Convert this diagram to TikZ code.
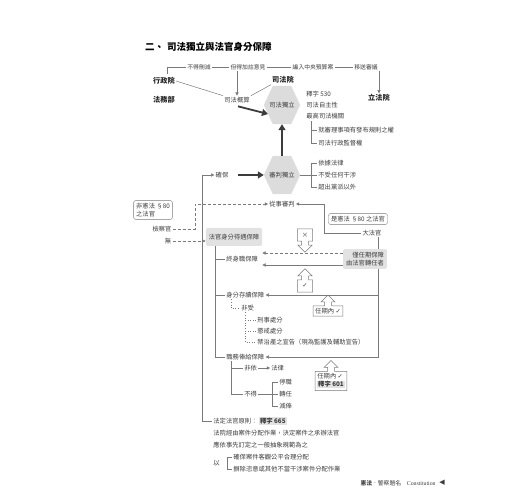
\documentclass[tikz,border=0pt]{standalone}
\usepackage{fontspec}
\setmainfont{Noto Sans CJK TC}
\newfontfamily\symfont{DejaVu Sans}
\newfontfamily\latinserif{Liberation Serif}
\usetikzlibrary{arrows.meta,positioning,calc,backgrounds}

\definecolor{ink}{HTML}{3C3C3C}
\definecolor{rulegray}{HTML}{7A7A7A}
\definecolor{hexgray}{HTML}{DCDCDC}
\definecolor{boxgray}{HTML}{E2E2E2}

% hollow arrow callouts round a node
\newcommand{\callDown}[1]{%
  \draw[callout] (#1.north west) -- (#1.north east) -- (#1.south east)
    -- ($(#1.south)+(3.5,0)$) -- ($(#1.south)+(3.5,4)$) -- ($(#1.south)+(7,4)$)
    -- ($(#1.south)+(0,11)$) -- ($(#1.south)+(-7,4)$) -- ($(#1.south)+(-3.5,4)$)
    -- ($(#1.south)+(-3.5,0)$) -- (#1.south west) -- cycle;}
\newcommand{\callUp}[1]{%
  \draw[callout] (#1.south west) -- (#1.south east) -- (#1.north east)
    -- ($(#1.north)+(3.5,0)$) -- ($(#1.north)+(3.5,-4)$) -- ($(#1.north)+(7,-4)$)
    -- ($(#1.north)+(0,-11)$) -- ($(#1.north)+(-7,-4)$) -- ($(#1.north)+(-3.5,-4)$)
    -- ($(#1.north)+(-3.5,0)$) -- (#1.north west) -- cycle;}

\begin{document}
\begin{tikzpicture}[x=1pt, y=-1pt,
  font=\fontsize{6.3}{8}\selectfont,
  txt/.style={inner sep=1.2pt, text=ink},
  ltxt/.style={txt, anchor=west},
  small/.style={txt, font=\fontsize{5.8}{7}\selectfont},
  organ/.style={inner sep=1pt, font=\fontsize{7.2}{9}\selectfont\bfseries, text=black!85},
  hexnode/.style={minimum width=36, minimum height=38, inner sep=0pt, text=ink},
  graybox/.style={fill=boxgray, rounded corners=1.5pt, inner sep=3pt, text=ink},
  tagbox/.style={draw=rulegray, rounded corners=2pt, inner sep=2.5pt, text=ink, align=left},
  ln/.style={draw=rulegray, line width=0.5pt},
  arr/.style={ln, -{Triangle[length=3.2pt,width=3.2pt]}},
  darr/.style={arr, densely dashed},
  dots/.style={draw=rulegray, line width=0.6pt, dotted},
  bigarr/.style={draw=ink, line width=1.8pt, -{Triangle[length=6pt,width=7pt]}},
  callout/.style={draw=rulegray, line width=0.5pt}
]
\useasboundingbox (0,0) rectangle (520,500);

\node[anchor=west, inner sep=0pt, font=\fontsize{9.5}{11}\selectfont\bfseries] (title) at (145,47) {二、\hspace{3pt}司法獨立與法官身分保障};

% budget line
\node[small] (cut) at (199,67) {不得刪減};
\node[small] (note) at (248,67) {但得加註意見};
\node[small] (budget) at (313,67) {編入中央預算案};
\node[small] (send) at (366,67) {移送審議};
\node[organ] (exec) at (164,81) {行政院};
\node[organ] (moj) at (164,100) {法務部};
\node[organ] (judy) at (283,80) {司法院};
\node[organ] (leg) at (379,98) {立法院};
\node[txt] (sfga) at (237,100) {司法概算};

\draw[ln] (167,74) |- (cut.west);
\draw[ln] (cut.east) -- (note.west);
\draw[ln] (note.east) -- (budget.west);
\draw[ln] (budget.east) -- (send.west);
\draw[arr] (leg.north |- send.south) -- (leg.north);
\draw[arr] (sfga.north |- note.south) -- (sfga.north);
\draw[ln] (exec.east) -- (sfga.north west);
\draw[ln] (judy.south west) -- (sfga.north east);

% independence
\node[hexnode] (sfdl) at (282,105) {司法獨立};
\node[hexnode] (spdl) at (282,175) {審判獨立};
\draw[bigarr] ($(sfga.south)+(1,2)$) -- ($(sfdl.center)+(-14,9)$);
\draw[bigarr] (spdl.north) -- (sfdl.south);

\node[ltxt] (j530) at (305,94) {釋字 530};
\node[ltxt] (auto) at (305,105) {司法自主性};
\node[ltxt] (supreme) at (305,116) {最高司法機關};
\node[ltxt] (rules) at (317,130) {就審理事項有發布規則之權};
\node[ltxt] (supv) at (317,143) {司法行政監督權};
\coordinate (b1) at ($(supreme.south west)+(6,1)$);
\draw[ln] (b1) |- (supv.west);
\draw[ln] (b1 |- rules.west) -- (rules.west);

\node[ltxt] (bylaw) at (317,163) {依據法律};
\node[ltxt] (noint) at (317,175) {不受任何干涉};
\node[ltxt] (party) at (317,187) {超出黨派以外};
\draw[ln] (spdl.east) -- (noint.west);
\draw[ln] (bylaw.west) -- ++(-6,0) |- (party.west);

\node[txt] (ensure) at (222,175) {確保};
\coordinate (top) at (202,175);
\draw[arr] (top) -- (ensure.west);
\draw[bigarr] ($(ensure.east)+(8,0)$) -- (spdl.west);

% who judges
\node[txt] (trial) at (282,204) {從事審判};
\node[tagbox] (yes80) at (358,219) {是憲法 §80 之法官};
\node[txt] (jus) at (372,233) {大法官};
\coordinate (jc) at (324,204);
\draw[arr] (jus.west) -| (jc) -- (trial.east);

\node[tagbox] (no80) at (153,210) {非憲法 §80\\之法官};
\node[txt] (pros) at (162,229) {檢察官};
\node[txt] (none) at (168,241) {無};
\coordinate (dc) at (195,204);
\draw[darr] (pros.east) -| (dc) -- (trial.west);

% status guarantees
\node[graybox, minimum height=18] (pbox) at (234,237) {法官身分待遇保障};
\draw[darr] (none.east) -- (none.east -| pbox.west);
\node[graybox, align=right] (tbox) at (365,259) {僅任期保障\\由法官轉任者};

\node[ltxt] (life) at (225,259) {終身職保障};
\node[ltxt] (exist) at (225,295) {身分存續保障};
\node[ltxt] (duty) at (225,357) {職務俸給保障};
\coordinate (sv) at ($(pbox.south west)+(10,0)$);
\draw[ln] (sv) |- (duty.west);
\draw[ln] (sv |- life.west) -- (life.west);
\draw[ln] (sv |- exist.west) -- (exist.west);

\draw[darr] ($(tbox.west)+(0,-6)$) -- ($(life.east)+(3,-6)$);
\draw[arr] ($(tbox.west)+(0,6)$) -- ($(life.east)+(3,6)$);
\coordinate (rv) at ($(tbox.south east)+(-9,0)$);
\draw[ln] (rv |- jus.south) -- (rv |- tbox.north);
\draw[arr] (rv) |- (duty.east);
\draw[arr] (rv |- exist.east) -- (exist.east);

\node[txt, minimum width=15, minimum height=12] (xc) at (305,235) {×};
\callDown{xc}
\node[txt, minimum width=15, minimum height=12] (vc) at (305,286) {\symfont ✓};
\callUp{vc}
\node[txt, inner sep=2pt] (tc1) at (328,311) {任期內 {\symfont ✓}};
\callUp{tc1}
\node[txt, inner sep=2pt, align=left] (tc2) at (331,381) {任期內 {\symfont ✓}\\{\fboxsep=0.8pt\colorbox{boxgray}{\bfseries 釋字 601}}};
\callUp{tc2}

% grounds
\node[ltxt] (nsh) at (240,308) {非受};
\node[ltxt] (crim) at (256,320) {刑事處分};
\node[ltxt] (disc) at (256,331) {懲戒處分};
\node[ltxt] (incap) at (256,342) {禁治產之宣告（現為監護及輔助宣告）};
\coordinate (d1) at ($(exist.south west)+(6,0)$);
\draw[dots] (d1) |- (nsh.west);
\coordinate (d2) at ($(nsh.south west)+(5,0)$);
\draw[dots] (d2) |- (incap.west);
\foreach \n in {crim,disc}
  \draw[dots] (d2 |- \n.west) -- (\n.west);

\node[ltxt] (byl) at (243,368) {非依};
\node[ltxt] (lawx) at (270,368) {法律};
\node[ltxt] (nodo) at (243,394) {不得};
\node[ltxt] (susp) at (278,382) {停職};
\node[ltxt] (trans) at (278,394) {轉任};
\node[ltxt] (cutp) at (278,406) {減俸};
\coordinate (d3) at ($(duty.south west)+(6,0)$);
\draw[ln] (d3) |- (nodo.west);
\draw[ln] (d3 |- byl.west) -- (byl.west);
\draw[arr] (byl.east) -- (lawx.west);
\draw[ln] (nodo.east) -- (trans.west);
\draw[ln] (susp.west) -- ++(-6,0) |- (cutp.west);

% lawful judge
\node[ltxt] (lj) at (212,421) {法定法官原則：};
\node[txt, fill=boxgray, inner sep=1pt, font=\fontsize{6.3}{8}\selectfont\bfseries, right=0pt of lj] (lj665) {釋字 665};
\draw[ln] (lj.west) -| (top);
\node[ltxt] (l1) at (212,433) {法院經由案件分配作業，決定案件之承辦法官};
\node[ltxt] (l2) at (212,445) {應依事先訂定之一般抽象規範為之};
\node[ltxt] (yi) at (212,463) {以};
\node[ltxt] (fair) at (232,457) {確保案件客觀公平合理分配};
\node[ltxt] (excl) at (232,469) {摒除恣意或其他不當干涉案件分配作業};
\draw[ln] (fair.west) -- ++(-5,0) |- (excl.west);

\node[small, anchor=east] (foot) at (437,483) {\textbf{憲法}．警察題名\quad{\latinserif Constitution}};
\node[txt, right=1pt of foot, font=\fontsize{7}{8}\selectfont\symfont] (tri) {◀};

\begin{scope}[on background layer]
  \foreach \h in {sfdl,spdl}
    \fill[hexgray] (\h.west) -- ($(\h.north west)!.25!(\h.north east)$)
      -- ($(\h.north west)!.75!(\h.north east)$) -- (\h.east)
      -- ($(\h.south west)!.75!(\h.south east)$)
      -- ($(\h.south west)!.25!(\h.south east)$) -- cycle;
\end{scope}
\end{tikzpicture}
\end{document}
